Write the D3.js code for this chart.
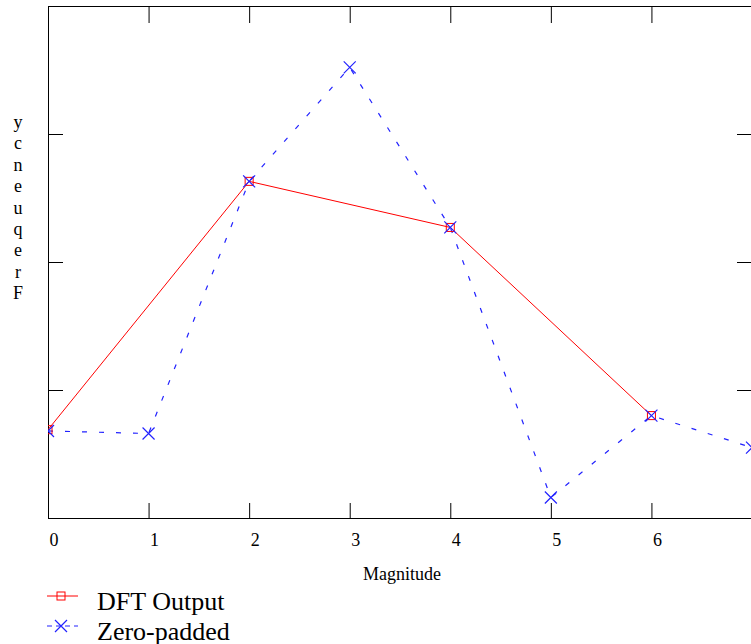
<!DOCTYPE html>
<html><head><meta charset="utf-8">
<script src="https://cdn.jsdelivr.net/npm/d3@7"></script>
<style>body{margin:0;background:#fff;} svg{display:block;} text{font-family:"Liberation Serif","DejaVu Serif",serif;}</style>
</head><body><div id="chart"></div>
<script>
// ---- data ----
const xTicks = [0,1,2,3,4,5,6,7];
const yTicks = [0,1,2,3,4];
const dftX = [0,2,4,6];
const dftY = [0.69,2.63,2.27,0.80];
const zeroX = [0,1,2,3,4,5,6,7];
const zeroY = [0.68,0.66,2.63,3.52,2.27,0.16,0.80,0.55];
const seriesNames = ["DFT Output","Zero-padded"];
const xLabel = "Magnitude";
const yLabel = "Frequency";

const W = 751, H = 644;
const m = {left:48, top:6, right:752, bottom:518};
const svg = d3.select("#chart").append("svg").attr("width",W).attr("height",H);
svg.append("rect").attr("width",W).attr("height",H).attr("fill","#fff");

const x = d3.scaleLinear().domain([0,7]).range([m.left,m.right]);
const y = d3.scaleLinear().domain([0,4]).range([m.bottom,m.top]);
const font = "Liberation Serif, serif";

svg.append("defs").append("clipPath").attr("id","clip")
  .append("rect").attr("x",m.left).attr("y",m.top).attr("width",m.right-m.left).attr("height",m.bottom-m.top);

// frame
const fr = svg.append("g").attr("stroke","#000").attr("fill","none").attr("stroke-width",1);
fr.append("line").attr("x1",m.left+0.5).attr("x2",m.left+0.5).attr("y1",m.top).attr("y2",m.bottom+0.5);
fr.append("line").attr("x1",m.left).attr("x2",m.right).attr("y1",m.top+0.5).attr("y2",m.top+0.5);
fr.append("line").attr("x1",m.left).attr("x2",m.right).attr("y1",m.bottom+0.5).attr("y2",m.bottom+0.5);
fr.append("line").attr("x1",m.right+0.5).attr("x2",m.right+0.5).attr("y1",m.top).attr("y2",m.bottom);

// x axis ticks (bottom and top, inward) using d3 axis
const xAxisB = d3.axisTop(x).tickValues(xTicks).tickSize(15).tickFormat("");
svg.append("g").attr("transform",`translate(0,${m.bottom})`).call(xAxisB)
  .call(g=>{g.select(".domain").remove(); g.selectAll("line").attr("stroke","#000");});
const xAxisT = d3.axisBottom(x).tickValues(xTicks).tickSize(17).tickFormat("");
svg.append("g").attr("transform",`translate(0,${m.top})`).call(xAxisT)
  .call(g=>{g.select(".domain").remove(); g.selectAll("line").attr("stroke","#000");});
// x tick labels
svg.append("g").selectAll("text").data(xTicks).join("text")
  .attr("x",d=>x(d)+6).attr("y",546).attr("text-anchor","middle")
  .style("font-family",font).attr("font-size",18).attr("fill","#000").text(d=>d);

// y ticks (left and right, inward)
const yAxisL = d3.axisRight(y).tickValues(yTicks).tickSize(15).tickFormat("");
svg.append("g").attr("transform",`translate(${m.left},0)`).call(yAxisL)
  .call(g=>{g.select(".domain").remove(); g.selectAll("line").attr("stroke","#000");});
const yAxisR = d3.axisLeft(y).tickValues(yTicks).tickSize(15).tickFormat("");
svg.append("g").attr("transform",`translate(${m.right},0)`).call(yAxisR)
  .call(g=>{g.select(".domain").remove(); g.selectAll("line").attr("stroke","#000");});

// axis labels
svg.append("text").attr("x",402).attr("y",580).attr("text-anchor","middle")
  .style("font-family",font).attr("font-size",18).text(xLabel);
const letters = yLabel.split("").reverse();
svg.append("g").selectAll("text").data(letters).join("text")
  .attr("x",18).attr("y",(d,i)=>128+i*21.4).attr("text-anchor","middle")
  .style("font-family",font).attr("font-size",18).text(d=>d);

// series
const plot = svg.append("g").attr("clip-path","url(#clip)");
const red = "#ff0000", blue = "#2222ff";
const dft = dftX.map((d,i)=>[d,dftY[i]]);
const zp = zeroX.map((d,i)=>[d,zeroY[i]]);
const line = d3.line().x(d=>x(d[0])).y(d=>y(d[1]));

plot.append("path").attr("d",line(zp)).attr("fill","none").attr("stroke",blue)
  .attr("stroke-width",1.2).attr("stroke-dasharray","5,12");
plot.append("path").attr("d",line(dft)).attr("fill","none").attr("stroke",red).attr("stroke-width",1);

function square(g,cx,cy,col){
  g.append("rect").attr("x",cx-4).attr("y",cy-4).attr("width",8).attr("height",8)
   .attr("fill","none").attr("stroke",col).attr("stroke-width",1);
}
function cross(g,cx,cy,col){
  g.append("path").attr("d",`M${cx-6},${cy-6}L${cx+6},${cy+6}M${cx-6},${cy+6}L${cx+6},${cy-6}`)
   .attr("stroke",col).attr("stroke-width",1.2).attr("fill","none");
}
dft.forEach(d=>square(plot,x(d[0]),y(d[1]),red));
zp.forEach(d=>cross(plot,x(d[0]),y(d[1]),blue));

// legend
const lg = svg.append("g");
const legY = [596,626];
lg.append("line").attr("x1",47).attr("x2",78).attr("y1",legY[0]).attr("y2",legY[0]).attr("stroke",red);
square(lg,61,legY[0],red);
lg.append("line").attr("x1",47).attr("x2",78).attr("y1",legY[1]).attr("y2",legY[1]).attr("stroke",blue)
  .attr("stroke-width",1.2).attr("stroke-dasharray","5,4");
cross(lg,61,legY[1],blue);
lg.selectAll("text").data(seriesNames).join("text")
  .attr("x",97).attr("y",(d,i)=>legY[i]+14)
  .style("font-family",font).attr("font-size",26).text(d=>d);
</script></body></html>
